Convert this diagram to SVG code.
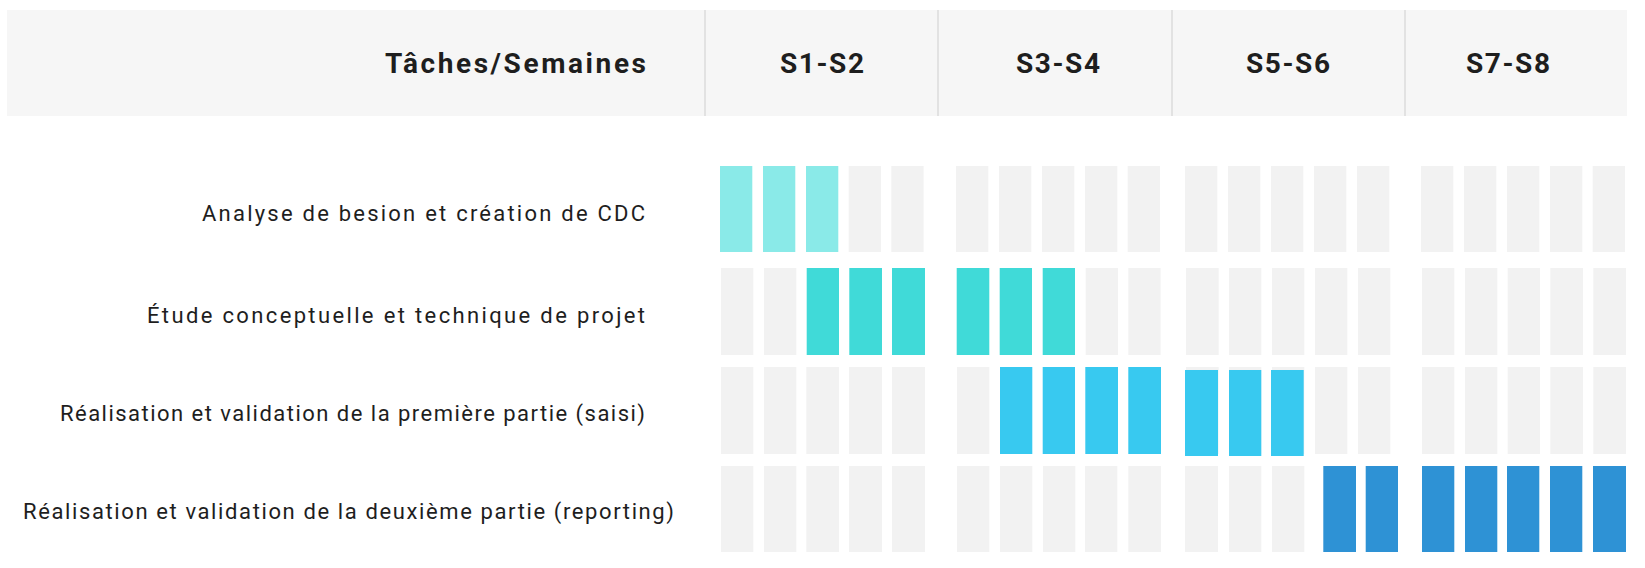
<svg xmlns="http://www.w3.org/2000/svg" width="1645" height="568" viewBox="0 0 1645 568">
<style>
.hdr{fill:#F6F6F6}
.div{stroke:#E2E2E2;stroke-width:2}
.ht{font-family:Roboto,"Liberation Sans",sans-serif;font-weight:700;font-size:28px;fill:#1E1E1E}
.lbl{font-family:Roboto,"Liberation Sans",sans-serif;font-size:22px;fill:#1E1E1E;text-anchor:end}
.g{fill:#F2F2F2}
.c1{fill:#8AEAE8}
.c2{fill:#40DAD8}
.c3{fill:#38C9F0}
.c4{fill:#2E92D5}
</style>
<rect width="1645" height="568" fill="#FFFFFF"/>
<g id="header">
<rect class="hdr" x="7" y="10" width="1620" height="106"/>
<line class="div" x1="705" y1="10" x2="705" y2="116"/>
<line class="div" x1="938" y1="10" x2="938" y2="116"/>
<line class="div" x1="1172" y1="10" x2="1172" y2="116"/>
<line class="div" x1="1405" y1="10" x2="1405" y2="116"/>
<text class="ht" x="646" y="72.5" text-anchor="end" textLength="261" lengthAdjust="spacing">Tâches/Semaines</text>
<text class="ht" x="822" y="72.5" text-anchor="middle" textLength="84" lengthAdjust="spacing">S1-S2</text>
<text class="ht" x="1058" y="72.5" text-anchor="middle" textLength="84" lengthAdjust="spacing">S3-S4</text>
<text class="ht" x="1288" y="72.5" text-anchor="middle" textLength="84" lengthAdjust="spacing">S5-S6</text>
<text class="ht" x="1508" y="72.5" text-anchor="middle" textLength="84" lengthAdjust="spacing">S7-S8</text>
</g>
<g id="row1">
<text class="lbl" x="645" y="220.5" textLength="443" lengthAdjust="spacing">Analyse de besion et création de CDC</text>
<rect class="c1" x="720" y="166" width="32.3" height="86"/>
<rect class="c1" x="763" y="166" width="32.3" height="86"/>
<rect class="c1" x="806" y="166" width="32.3" height="86"/>
<rect class="g" x="848.7" y="166" width="32.3" height="86"/>
<rect class="g" x="891.3" y="166" width="32.3" height="86"/>
<rect class="g" x="956" y="166" width="32.3" height="86"/>
<rect class="g" x="999" y="166" width="32.3" height="86"/>
<rect class="g" x="1042" y="166" width="32.3" height="86"/>
<rect class="g" x="1085" y="166" width="32.3" height="86"/>
<rect class="g" x="1127.7" y="166" width="32.3" height="86"/>
<rect class="g" x="1185" y="166" width="32.3" height="86"/>
<rect class="g" x="1228" y="166" width="32.3" height="86"/>
<rect class="g" x="1271" y="166" width="32.3" height="86"/>
<rect class="g" x="1314" y="166" width="32.3" height="86"/>
<rect class="g" x="1357" y="166" width="32.3" height="86"/>
<rect class="g" x="1421" y="166" width="32.3" height="86"/>
<rect class="g" x="1464" y="166" width="32.3" height="86"/>
<rect class="g" x="1507" y="166" width="32.3" height="86"/>
<rect class="g" x="1550" y="166" width="32.3" height="86"/>
<rect class="g" x="1592.7" y="166" width="32.3" height="86"/>
</g>
<g id="row2">
<text class="lbl" x="645" y="323" textLength="498" lengthAdjust="spacing">Étude conceptuelle et technique de projet</text>
<rect class="g" x="721" y="268" width="32.3" height="87"/>
<rect class="g" x="764" y="268" width="32.3" height="87"/>
<rect class="c2" x="806.7" y="268" width="32.3" height="87"/>
<rect class="c2" x="849.3" y="268" width="32.7" height="87"/>
<rect class="c2" x="892" y="268" width="33" height="87"/>
<rect class="c2" x="956.7" y="268" width="32.6" height="87"/>
<rect class="c2" x="999.7" y="268" width="32.3" height="87"/>
<rect class="c2" x="1042.7" y="268" width="32.3" height="87"/>
<rect class="g" x="1085.7" y="268" width="32.3" height="87"/>
<rect class="g" x="1128.3" y="268" width="32.3" height="87"/>
<rect class="g" x="1186" y="268" width="32.7" height="87"/>
<rect class="g" x="1229" y="268" width="32.3" height="87"/>
<rect class="g" x="1272" y="268" width="32.3" height="87"/>
<rect class="g" x="1315" y="268" width="32.3" height="87"/>
<rect class="g" x="1358" y="268" width="32.3" height="87"/>
<rect class="g" x="1422" y="268" width="32.3" height="87"/>
<rect class="g" x="1465" y="268" width="32.3" height="87"/>
<rect class="g" x="1507.7" y="268" width="32.3" height="87"/>
<rect class="g" x="1550.3" y="268" width="32.7" height="87"/>
<rect class="g" x="1593.3" y="268" width="32.7" height="87"/>
</g>
<g id="row3">
<text class="lbl" x="645" y="420.5" textLength="585" lengthAdjust="spacing">Réalisation et validation de la première partie (saisi)</text>
<rect class="g" x="721" y="367" width="32.3" height="87"/>
<rect class="g" x="764" y="367" width="32.3" height="87"/>
<rect class="g" x="806.3" y="367" width="32.7" height="87"/>
<rect class="g" x="849" y="367" width="33" height="87"/>
<rect class="g" x="892" y="367" width="33" height="87"/>
<rect class="g" x="957" y="367" width="32.3" height="87"/>
<rect class="c3" x="1000" y="367" width="32.3" height="87"/>
<rect class="c3" x="1042.7" y="367" width="32.3" height="87"/>
<rect class="c3" x="1085.3" y="367" width="32.7" height="87"/>
<rect class="c3" x="1128.3" y="367" width="32.7" height="87"/>
<rect class="g" x="1186" y="367" width="32.7" height="87"/>
<rect class="g" x="1229" y="367" width="32.3" height="87"/>
<rect class="g" x="1272" y="367" width="32.3" height="87"/>
<rect class="c3" x="1185" y="370" width="33" height="86"/>
<rect class="c3" x="1229" y="370" width="32.3" height="86"/>
<rect class="c3" x="1271" y="370" width="32.7" height="86"/>
<rect class="g" x="1315" y="367" width="32.3" height="87"/>
<rect class="g" x="1358" y="367" width="32.3" height="87"/>
<rect class="g" x="1422" y="367" width="32.3" height="87"/>
<rect class="g" x="1465" y="367" width="32.3" height="87"/>
<rect class="g" x="1507.7" y="367" width="32.3" height="87"/>
<rect class="g" x="1550.3" y="367" width="32.7" height="87"/>
<rect class="g" x="1593.3" y="367" width="32.7" height="87"/>
</g>
<g id="row4">
<text class="lbl" x="674" y="519" textLength="651" lengthAdjust="spacing">Réalisation et validation de la deuxième partie (reporting)</text>
<rect class="g" x="721" y="466" width="32.3" height="86"/>
<rect class="g" x="764" y="466" width="32.3" height="86"/>
<rect class="g" x="806.3" y="466" width="32.7" height="86"/>
<rect class="g" x="849" y="466" width="33" height="86"/>
<rect class="g" x="892" y="466" width="33" height="86"/>
<rect class="g" x="957" y="466" width="32.3" height="86"/>
<rect class="g" x="1000" y="466" width="32.3" height="86"/>
<rect class="g" x="1043" y="466" width="32.3" height="86"/>
<rect class="g" x="1085" y="466" width="32.3" height="86"/>
<rect class="g" x="1128.3" y="466" width="32.7" height="86"/>
<rect class="g" x="1185" y="466" width="33" height="86"/>
<rect class="g" x="1229" y="466" width="32.3" height="86"/>
<rect class="g" x="1272" y="466" width="32.3" height="86"/>
<rect class="c4" x="1323.3" y="466" width="32.7" height="86"/>
<rect class="c4" x="1365.7" y="466" width="32.3" height="86"/>
<rect class="c4" x="1422" y="466" width="32.3" height="86"/>
<rect class="c4" x="1465" y="466" width="32.3" height="86"/>
<rect class="c4" x="1507" y="466" width="32.3" height="86"/>
<rect class="c4" x="1550" y="466" width="32.3" height="86"/>
<rect class="c4" x="1593" y="466" width="33" height="86"/>
</g>
</svg>
